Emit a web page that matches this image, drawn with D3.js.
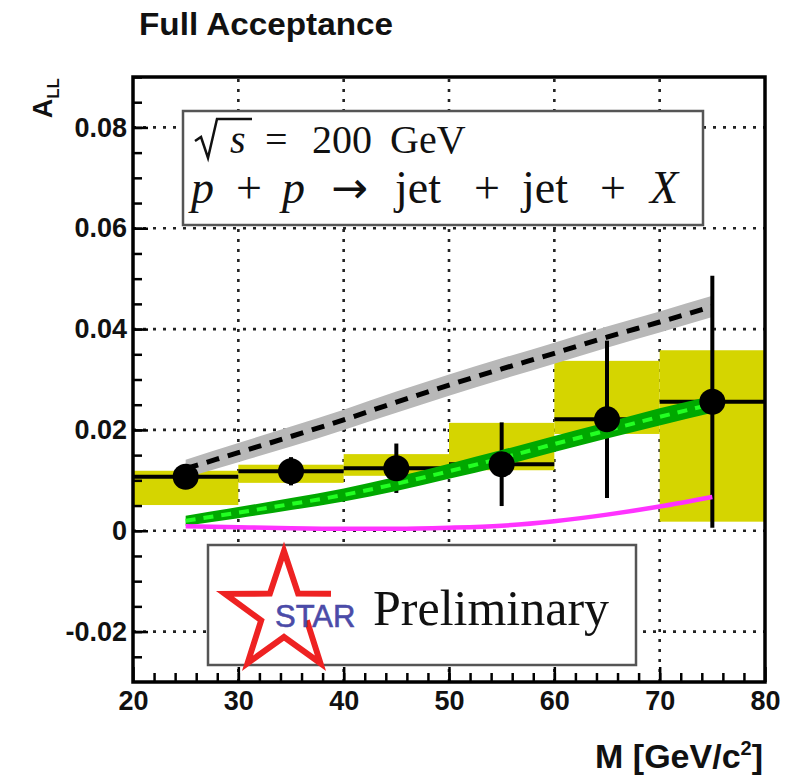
<!DOCTYPE html>
<html><head><meta charset="utf-8">
<script src="https://cdn.jsdelivr.net/npm/d3@7"></script>
<style>
html,body{margin:0;padding:0;background:#fff;}
svg{display:block;}
</style></head>
<body>
<svg id="chart" width="803" height="777" font-family="Liberation Sans, Arial, Helvetica, sans-serif"></svg>
<script>
// ---- data ----
const massBins   = [25, 35, 45, 55, 65, 75];
const binHalf    = [5, 5, 5, 5, 5, 5];
const allValues  = [0.0107, 0.0118, 0.0124, 0.0132, 0.0221, 0.0256];
const statErr    = [0.0012, 0.0028, 0.0049, 0.0083, 0.0156, 0.0250];
const sysLow     = [0.0051, 0.0095, 0.0109, 0.0120, 0.0192, 0.0018];
const sysHigh    = [0.0119, 0.0131, 0.0152, 0.0214, 0.0337, 0.0358];

const theoryMass   = [25, 30, 35, 40, 45, 50, 55, 60, 65, 70, 75];
const grayCenter   = [0.0123, 0.0155, 0.0187, 0.0220, 0.0255, 0.0289, 0.0321, 0.0352, 0.0384, 0.0414, 0.0445];
const grayErr      = [0.0018, 0.0019, 0.0020, 0.0020, 0.0021, 0.0021, 0.0021, 0.0021, 0.0021, 0.0021, 0.0021];
const greenCenter  = [0.0020, 0.0036, 0.0053, 0.0071, 0.0093, 0.0118, 0.0144, 0.0172, 0.0199, 0.0226, 0.0251];
const greenErr     = [0.0010, 0.0011, 0.0012, 0.0013, 0.0014, 0.0015, 0.0016, 0.0016, 0.0016, 0.0017, 0.0017];
const magentaCurve = [0.0009, 0.0007, 0.0005, 0.0004, 0.0004, 0.0006, 0.0010, 0.0019, 0.0032, 0.0048, 0.0067];

const xTicks = [20, 30, 40, 50, 60, 70, 80];
const yTicks = [-0.02, 0, 0.02, 0.04, 0.06, 0.08];
const yTickLabels = ["-0.02", "0", "0.02", "0.04", "0.06", "0.08"];

// ---- layout ----
const svg = d3.select("#chart");
const L = 133, R = 765, T = 77, B = 682;
const x = d3.scaleLinear().domain([20, 80]).range([L, R]);
const y = d3.scaleLinear().domain([-0.03, 0.09]).range([B, T]);
const serif = "Liberation Serif, Times New Roman, serif";

// title
svg.append("text").attr("x", 139).attr("y", 35)
  .attr("font-size", 31).attr("font-weight", "bold").attr("fill", "#111")
  .attr("textLength", 254).attr("lengthAdjust", "spacingAndGlyphs")
  .text("Full Acceptance");

// grid
const grid = svg.append("g").attr("stroke", "#222").attr("stroke-width", 2.6)
  .attr("stroke-dasharray", "3,7");
xTicks.filter(v => v > 20 && v < 80).forEach(v => {
  grid.append("line").attr("x1", x(v)).attr("x2", x(v)).attr("y1", B).attr("y2", T);
});
yTicks.forEach(v => {
  grid.append("line").attr("y1", y(v)).attr("y2", y(v)).attr("x1", L).attr("x2", R);
});

// systematic boxes
svg.append("g").selectAll("rect").data(massBins).join("rect")
  .attr("x", (d, i) => x(d - binHalf[i]))
  .attr("width", (d, i) => x(d + binHalf[i]) - x(d - binHalf[i]))
  .attr("y", (d, i) => y(sysHigh[i]))
  .attr("height", (d, i) => y(sysLow[i]) - y(sysHigh[i]))
  .attr("fill", "#d5d500");

const idx = theoryMass.map((d, i) => i);
// gray band + dashed line
svg.append("path").datum(idx)
  .attr("d", d3.area().curve(d3.curveMonotoneX)
    .x(i => x(theoryMass[i])).y0(i => y(grayCenter[i] - grayErr[i])).y1(i => y(grayCenter[i] + grayErr[i])))
  .attr("fill", "#b8b8b8");
svg.append("path").datum(idx)
  .attr("d", d3.line().curve(d3.curveMonotoneX).x(i => x(theoryMass[i])).y(i => y(grayCenter[i])))
  .attr("fill", "none").attr("stroke", "#000").attr("stroke-width", 5).attr("stroke-dasharray", "13,9");

// error bars (stat)
const eb = svg.append("g").attr("stroke", "#000").attr("stroke-width", 4);
massBins.forEach((d, i) => {
  eb.append("line").attr("x1", x(d - binHalf[i])).attr("x2", x(d + binHalf[i]))
    .attr("y1", y(allValues[i])).attr("y2", y(allValues[i]));
  eb.append("line").attr("x1", x(d)).attr("x2", x(d))
    .attr("y1", y(allValues[i] - statErr[i])).attr("y2", y(allValues[i] + statErr[i]));
});

// green band + dashed line
svg.append("path").datum(idx)
  .attr("d", d3.area().curve(d3.curveMonotoneX)
    .x(i => x(theoryMass[i])).y0(i => y(greenCenter[i] - greenErr[i])).y1(i => y(greenCenter[i] + greenErr[i])))
  .attr("fill", "#00a800");
svg.append("path").datum(idx)
  .attr("d", d3.line().curve(d3.curveMonotoneX).x(i => x(theoryMass[i])).y(i => y(greenCenter[i])))
  .attr("fill", "none").attr("stroke", "#22ff22").attr("stroke-width", 4).attr("stroke-dasharray", "10,8");

// magenta
svg.append("path").datum(idx)
  .attr("d", d3.line().curve(d3.curveMonotoneX).x(i => x(theoryMass[i])).y(i => y(magentaCurve[i])))
  .attr("fill", "none").attr("stroke", "#ff33ff").attr("stroke-width", 4.5);

// markers
svg.append("g").selectAll("circle").data(massBins).join("circle")
  .attr("cx", d => x(d)).attr("cy", (d, i) => y(allValues[i])).attr("r", 13).attr("fill", "#000");

// legend box 1
svg.append("rect").attr("x", 183).attr("y", 111).attr("width", 520).attr("height", 114)
  .attr("fill", "#fff").attr("stroke", "#555").attr("stroke-width", 2.5);
// sqrt(s) radical
svg.append("path").attr("d", "M195,141 L201,137 L208,158 L217,119 L252,119")
  .attr("fill", "none").attr("stroke", "#111").attr("stroke-width", 2.5);
const lg = svg.append("text").attr("font-family", serif).attr("fill", "#111");
const l1 = [["s", 230, true], ["=", 265, false], ["200", 312, false], ["GeV", 390, false]];
l1.forEach(t => lg.append("tspan").attr("x", t[1]).attr("y", 153).attr("font-size", 40)
  .attr("font-style", t[2] ? "italic" : "normal").text(t[0]));
const l2 = [["p", 191, true], ["+", 236, false], ["p", 282, true], ["\u2192", 331, false],
  ["jet", 395, false], ["+", 474, false], ["jet", 522, false], ["+", 600, false], ["X", 650, true]];
l2.forEach(t => {
  const ts = lg.append("tspan").attr("x", t[1]).attr("y", 203).attr("font-size", 46)
    .attr("font-style", t[2] ? "italic" : "normal").text(t[0]);
  if (t[0] === "\u2192") ts.attr("font-family", "DejaVu Sans, sans-serif").attr("font-size", 44);
});

// legend box 2 (STAR Preliminary)
svg.append("rect").attr("x", 208).attr("y", 545).attr("width", 428).attr("height", 120)
  .attr("fill", "#fff").attr("stroke", "#555").attr("stroke-width", 2.5);
const cx = 284, cy = 613, Ro = 62, Ri = 24;
// open star outline: from the right tip, counter-clockwise, ending at the lower-right inner vertex
const starPts = d3.range(0, 10).map(k => {
  const a = -Math.PI / 10 - k * Math.PI / 5, r = k % 2 ? Ri : Ro;
  return [cx + r * Math.cos(a), cy + r * Math.sin(a)];
});
starPts[0][0] = 331;
svg.append("path").attr("d", "M" + starPts.map(p => p.join(",")).join("L"))
  .attr("fill", "none").attr("stroke", "#ee2222").attr("stroke-width", 6).attr("stroke-linejoin", "miter");
const lg2 = svg.append("text").attr("fill", "#111");
lg2.append("tspan").attr("x", 275).attr("y", 627).attr("font-size", 31).attr("fill", "#4b4ba8")
  .attr("stroke", "#4b4ba8").attr("stroke-width", 0.6).text("STAR");
lg2.append("tspan").attr("x", 373).attr("y", 625).attr("font-family", serif).attr("font-size", 50).text("Preliminary");

// axes
const axL = svg.append("g").attr("transform", `translate(${L},0)`)
  .call(d3.axisLeft(y).tickValues(yTicks).tickSize(-15).tickPadding(6)
    .tickFormat((d, i) => yTickLabels[i]));
const axLm = svg.append("g").attr("transform", `translate(${L},0)`)
  .call(d3.axisLeft(y).tickValues(d3.range(-0.025, 0.0901, 0.005)).tickSize(-9).tickFormat(""));
const axB = svg.append("g").attr("transform", `translate(0,${B})`)
  .call(d3.axisBottom(x).tickValues(xTicks).tickSize(-15).tickPadding(9).tickFormat(d3.format("d")));
const axBm = svg.append("g").attr("transform", `translate(0,${B})`)
  .call(d3.axisBottom(x).tickValues(d3.range(22, 80, 2)).tickSize(-9).tickFormat(""));
[axL, axLm, axB, axBm].forEach(g => {
  g.select(".domain").remove();
  g.selectAll(".tick line").attr("stroke", "#000").attr("stroke-width", 2.5);
  g.selectAll(".tick text").attr("font-size", 27).attr("font-weight", "bold").attr("fill", "#111")
    .attr("font-family", "Liberation Sans, Arial, sans-serif");
});

// frame
svg.append("rect").attr("x", L).attr("y", T).attr("width", R - L).attr("height", B - T)
  .attr("fill", "none").attr("stroke", "#000").attr("stroke-width", 3.5);

// axis titles
svg.append("text").attr("transform", `translate(52,78) rotate(-90)`).attr("text-anchor", "end")
  .attr("font-weight", "bold").attr("fill", "#111")
  .call(t => {
    t.append("tspan").attr("font-size", 27).text("A");
    t.append("tspan").attr("font-size", 17).attr("dy", 7).text("LL");
  });
svg.append("text").attr("x", 763).attr("y", 768).attr("text-anchor", "end")
  .attr("font-weight", "bold").attr("font-size", 34).attr("fill", "#111")
  .call(t => {
    t.append("tspan").text("M [GeV/c");
    t.append("tspan").attr("font-size", 20).attr("dy", -13).text("2");
    t.append("tspan").attr("dy", 13).text("]");
  });
</script>
</body></html>
